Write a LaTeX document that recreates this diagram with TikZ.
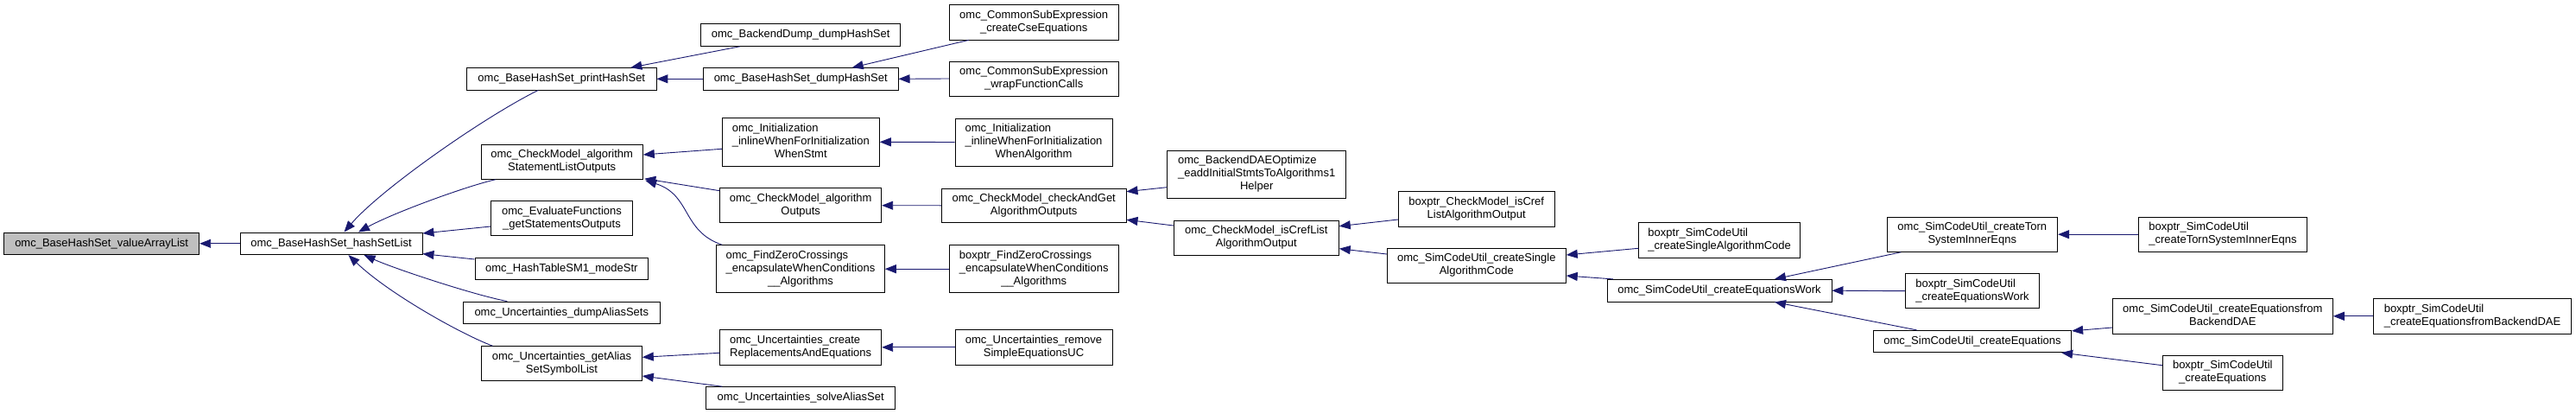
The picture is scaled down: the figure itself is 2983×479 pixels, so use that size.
\documentclass[tikz,border=0pt]{standalone}
\usepackage{fontspec}
\setmainfont{Liberation Sans}
\usetikzlibrary{arrows.meta,calc}
\definecolor{edgeblue}{HTML}{191970}
\definecolor{selgray}{HTML}{BFBFBF}
\newcommand{\lastln}[1]{\multicolumn{1}{@{}c@{}}{#1}}
\newcommand{\fl}[1]{\begin{tabular}{@{}l@{}}#1\end{tabular}}
\begin{document}
\begin{tikzpicture}[x=1pt,y=-1pt,
  fn/.style={draw=black, line width=0.9pt, fill=white, inner sep=0pt,
    font=\fontsize{13}{15}\selectfont, text=black},
  nb/.style 2 args={fn, minimum width=#1, minimum height=#2},
  edge/.style={draw=edgeblue, line width=0.9pt, -{Triangle[length=13pt,width=10pt]}}]
\fill[white] (0,0) rectangle (2983,479);
\useasboundingbox (0,0) rectangle (2983,479);

% column 0-1
\node[nb={226pt}{25.7pt}, fill=selgray] (val) at (117.7,281.8) {omc\_BaseHashSet\_valueArrayList};
\node[nb={211pt}{25.7pt}] (hsl) at (383.5,281.8) {omc\_BaseHashSet\_hashSetList};
% column 2
\node[nb={219.3pt}{25.3pt}] (print) at (650.3,91.3) {omc\_BaseHashSet\_printHashSet};
\node[nb={187.3pt}{40pt}] (asl) at (650.7,187.3) {\fl{omc\_CheckModel\_algorithm\\ \lastln{StatementListOutputs}}};
\node[nb={163.7pt}{40pt}] (eval) at (650.5,252.7) {\fl{omc\_EvaluateFunctions\\ \lastln{\_getStatementsOutputs}}};
\node[nb={200.7pt}{25.3pt}] (hts) at (650.3,311) {omc\_HashTableSM1\_modeStr};
\node[nb={227.3pt}{25.3pt}] (das) at (650.3,361.7) {omc\_Uncertainties\_dumpAliasSets};
\node[nb={185.7pt}{40pt}] (gas) at (650.5,420.7) {\fl{omc\_Uncertainties\_getAlias\\ \lastln{SetSymbolList}}};
% column 3
\node[nb={231pt}{25.7pt}] (bdump) at (927.2,40.5) {omc\_BackendDump\_dumpHashSet};
\node[nb={225.7pt}{25.3pt}] (dhs) at (927.2,91.3) {omc\_BaseHashSet\_dumpHashSet};
\node[nb={182pt}{55.3pt}] (iws) at (927.3,164.3) {\fl{omc\_Initialization\\ \_inlineWhenForInitialization\\ \lastln{WhenStmt}}};
\node[nb={187pt}{40pt}] (ao) at (927.2,237.7) {\fl{omc\_CheckModel\_algorithm\\ \lastln{Outputs}}};
\node[nb={194.7pt}{55pt}] (fzc) at (927,311.2) {\fl{omc\_FindZeroCrossings\\ \_encapsulateWhenConditions\\ \lastln{\_\_Algorithms}}};
\node[nb={187pt}{40.3pt}] (cre) at (927.2,401.8) {\fl{omc\_Uncertainties\_create\\ \lastln{ReplacementsAndEquations}}};
\node[nb={219pt}{25.3pt}] (sas) at (927.2,460.3) {omc\_Uncertainties\_solveAliasSet};
% column 4
\node[nb={195.7pt}{40.3pt}] (cse) at (1197.2,25.8) {\fl{omc\_CommonSubExpression\\ \lastln{\_createCseEquations}}};
\node[nb={195.7pt}{40pt}] (wfc) at (1197.2,91) {\fl{omc\_CommonSubExpression\\ \lastln{\_wrapFunctionCalls}}};
\node[nb={182pt}{55pt}] (iwa) at (1197,164.5) {\fl{omc\_Initialization\\ \_inlineWhenForInitialization\\ \lastln{WhenAlgorithm}}};
\node[nb={213.7pt}{39.7pt}] (cag) at (1197.2,237.8) {\fl{omc\_CheckModel\_checkAndGet\\ \lastln{AlgorithmOutputs}}};
\node[nb={195.7pt}{55pt}] (bfz) at (1197.2,311.2) {\fl{boxptr\_FindZeroCrossings\\ \_encapsulateWhenConditions\\ \lastln{\_\_Algorithms}}};
\node[nb={182pt}{40.3pt}] (rse) at (1197,401.8) {\fl{omc\_Uncertainties\_remove\\ \lastln{SimpleEquationsUC}}};
% column 5
\node[nb={207pt}{55pt}] (bdo) at (1455.2,201.5) {\fl{omc\_BackendDAEOptimize\\ \_eaddInitialStmtsToAlgorithms1\\ \lastln{Helper}}};
\node[nb={191pt}{40pt}] (icl) at (1454.8,275.3) {\fl{omc\_CheckModel\_isCrefList\\ \lastln{AlgorithmOutput}}};
% column 6
\node[nb={180.7pt}{40.3pt}] (bicl) at (1709.7,241.8) {\fl{boxptr\_CheckModel\_isCref\\ \lastln{ListAlgorithmOutput}}};
\node[nb={207pt}{40.3pt}] (csa) at (1709.8,307.2) {\fl{omc\_SimCodeUtil\_createSingle\\ \lastln{AlgorithmCode}}};
% column 7
\node[nb={187pt}{40.3pt}] (bcsa) at (1991.2,277.8) {\fl{boxptr\_SimCodeUtil\\ \lastln{\_createSingleAlgorithmCode}}};
\node[nb={260pt}{25.7pt}] (cew) at (1991,336.2) {omc\_SimCodeUtil\_createEquationsWork};
% column 8
\node[nb={197.7pt}{40.3pt}] (ctsi) at (2283.8,271.2) {\fl{omc\_SimCodeUtil\_createTorn\\ \lastln{SystemInnerEqns}}};
\node[nb={154.7pt}{40pt}] (bcew) at (2284,336.7) {\fl{boxptr\_SimCodeUtil\\ \lastln{\_createEquationsWork}}};
\node[nb={229.3pt}{25.3pt}] (ceq) at (2284,395) {omc\_SimCodeUtil\_createEquations};
% column 9
\node[nb={194.7pt}{40.3pt}] (bctsi) at (2574,271.2) {\fl{boxptr\_SimCodeUtil\\ \lastln{\_createTornSystemInnerEqns}}};
\node[nb={255pt}{40.3pt}] (cebd) at (2573.8,365.8) {\fl{omc\_SimCodeUtil\_createEquationsfrom\\ \lastln{BackendDAE}}};
\node[nb={139pt}{40.3pt}] (bceq) at (2573.8,431.2) {\fl{boxptr\_SimCodeUtil\\ \lastln{\_createEquations}}};
% column 10
\node[nb={228.6pt}{40.3pt}] (bcebd) at (2863,365.8) {\fl{boxptr\_SimCodeUtil\\ \lastln{\_createEquationsfromBackendDAE}}};

% edges (caller -> callee)
\draw[edge] (hsl.west) -- (val.east);
\draw[edge] ($(print.south)+(-27,0)$) .. controls +(-63,31) and +(42,-49) .. ($(hsl.north)+(15,0)$);
\draw[edge] ($(asl.south)+(-77,0)$) .. controls +(-35,8) and +(40,-22) .. ($(hsl.north)+(31.5,0)$);
\draw[edge] ($(eval.west)+(0,9.3)$) -- ($(hsl.north east)+(0,1.5)$);
\draw[edge] ($(hts.west)+(0,-11)$) -- ($(hsl.south east)+(0,-1.5)$);
\draw[edge] ($(das.north)+(-63,0)$) .. controls +(-37,-7) and +(38.5,17) .. ($(hsl.south)+(38,0)$);
\draw[edge] ($(gas.north)+(-80,0)$) .. controls +(-35,-13) and +(47,45) .. ($(hsl.south)+(20,0)$);

\draw[edge] ($(bdump.south)+(-70.5,0)$) -- ($(print.north)+(80,0)$);
\draw[edge] (dhs.west) -- (print.east);
\draw[edge] ($(cse.south)+(-75.5,0)$) -- ($(dhs.north)+(59.5,0)$);
\draw[edge] (wfc.west) -- (dhs.east);

\draw[edge] ($(iws.west)+(0,8)$) -- ($(asl.east)+(0,-8.3)$);
\draw[edge] ($(ao.west)+(0,-17)$) -- ($(asl.south east)+(1.5,-1)$);
\draw[edge] ($(fzc.north west)+(7,0)$) .. controls +(-46.7,-15.7) and +(53.2,16.7) .. ($(asl.south east)+(2.5,1)$);
\draw[edge] (iwa.west) -- (iws.east);
\draw[edge] (cag.west) -- (ao.east);
\draw[edge] (bfz.west) -- (fzc.east);
\draw[edge] (rse.west) -- (cre.east);
\draw[edge] ($(cre.west)+(0,6.5)$) -- ($(gas.east)+(0,-7.4)$);
\draw[edge] ($(sas.north west)+(19,0)$) -- ($(gas.east)+(0,14.3)$);

\draw[edge] ($(bdo.west)+(0,15.2)$) -- ($(cag.east)+(0,-16.1)$);
\draw[edge] ($(icl.west)+(0,-14.3)$) -- ($(cag.east)+(0,16.5)$);
\draw[edge] ($(bicl.west)+(0,12.2)$) -- ($(icl.east)+(0,-13.6)$);
\draw[edge] ($(csa.west)+(0,-13.2)$) -- ($(icl.east)+(0,12.4)$);
\draw[edge] ($(bcsa.west)+(0,9.5)$) -- ($(csa.east)+(0,-12.2)$);
\draw[edge] ($(cew.north west)+(7.3,0)$) -- ($(csa.east)+(0,11.8)$);

\draw[edge] ($(ctsi.south west)+(16.7,0)$) -- ($(cew.north)+(64,0)$);
\draw[edge] (bcew.west) -- (cew.east);
\draw[edge] ($(ceq.north west)+(50.7,0)$) -- ($(cew.south)+(64,0)$);
\draw[edge] (bctsi.west) -- (ctsi.east);
\draw[edge] ($(cebd.west)+(0,13.2)$) -- ($(ceq.north east)+(0,1)$);
\draw[edge] ($(bceq.west)+(0,-8.5)$) -- ($(ceq.south east)+(-12,0)$);
\draw[edge] (bcebd.west) -- (cebd.east);
\end{tikzpicture}
\end{document}
